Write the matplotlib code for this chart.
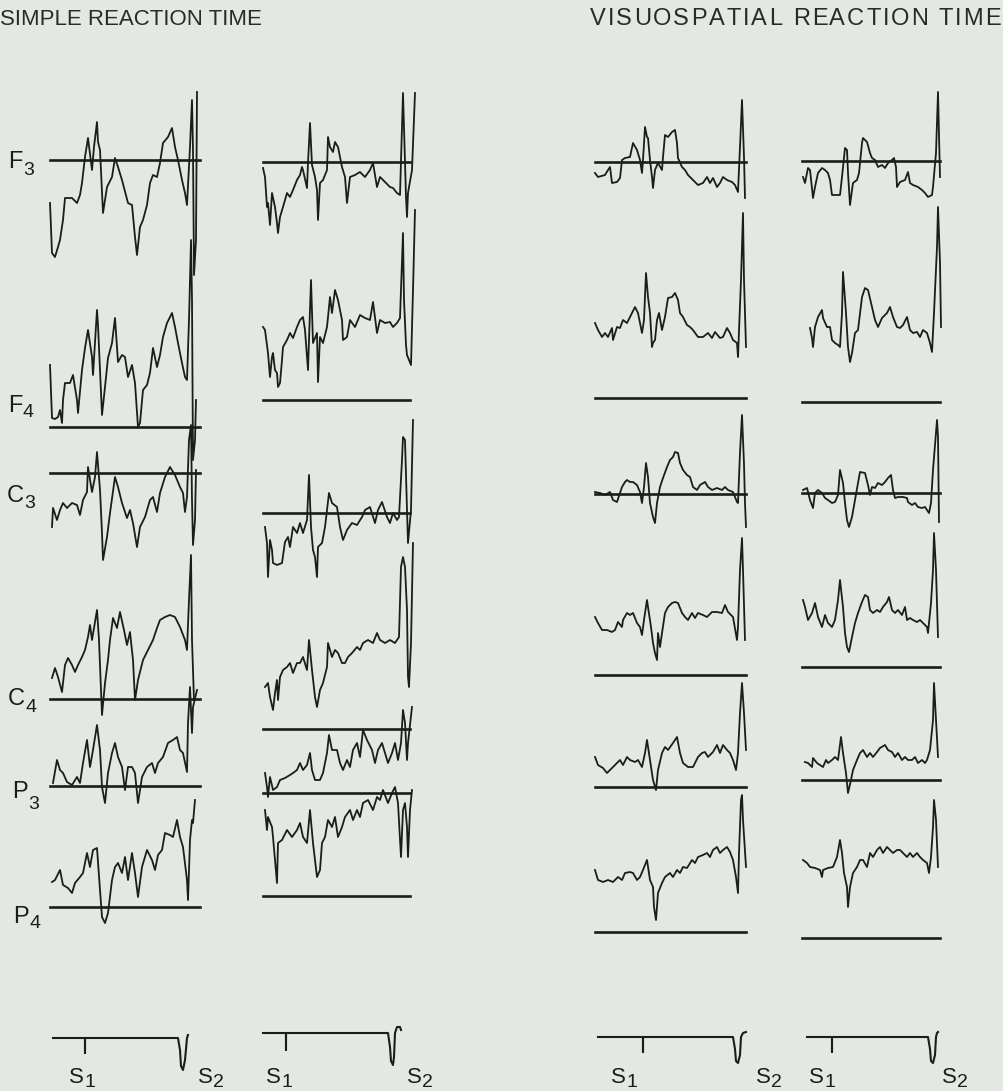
import matplotlib.pyplot as plt

# Averaged EEG traces for the two tasks, two subjects per task.
# Each trace is a list of (t, amplitude) points: t runs along the epoch,
# amplitude is measured upward from the trace's own reference line.

# ---- simple reaction time, first subject ----
srt_a_f3 = [(0, -43), (2, -93), (5, -97), (8, -87), (10, -80), (13, -60), (15, -38), (22, -38),
            (27, -43), (30, -35), (32, -23), (35, 3), (38, 22), (42, -10), (44, 13), (47, 38),
            (48, 18), (50, 10), (53, -53), (57, -27), (62, -17), (65, 2), (68, -7), (72, -20),
            (78, -43), (82, -45), (85, -77), (87, -95), (90, -67), (93, -60), (97, -45), (100, -23),
            (103, -15), (107, -17), (110, -3), (113, 17), (118, 23), (122, 32), (125, 13), (128, 0),
            (132, -20), (135, -33), (137, -45), (140, 13), (142, 60), (143, 10), (144, -115),
            (146, -80), (147, 68)]
srt_a_f4 = [(0, 62), (2, 9), (5, 8), (8, 10), (10, 17), (12, 4), (13, 27), (15, 44), (20, 44),
            (23, 52), (27, 27), (28, 14), (32, 57), (35, 79), (38, 97), (42, 70), (43, 52),
            (47, 117), (48, 102), (50, 57), (52, 12), (55, 40), (58, 69), (62, 84), (65, 109),
            (68, 65), (72, 72), (75, 70), (78, 50), (82, 62), (85, 44), (88, 0), (90, 4), (93, 37),
            (97, 42), (100, 54), (103, 79), (107, 60), (110, 72), (113, 90), (117, 104), (122, 114),
            (125, 100), (128, 84), (132, 64), (135, 50), (137, 47), (139, 107), (141, 187),
            (142, 127), (143, -33), (145, -13), (146, 27)]
srt_a_c3 = [(2, -54), (3, -35), (7, -47), (10, -37), (13, -30), (17, -35), (22, -30), (27, -32),
            (30, -42), (33, -27), (37, -19), (38, 6), (42, -19), (45, -4), (47, 21), (50, -17),
            (52, -60), (53, -87), (57, -64), (60, -40), (65, -4), (68, -14), (72, -30), (77, -45),
            (80, -37), (83, -50), (87, -74), (90, -54), (95, -44), (100, -27), (103, -24),
            (107, -39), (110, -20), (115, -4), (120, 6), (125, -2), (130, -14), (133, -20),
            (135, -39), (137, -24), (139, 33), (141, 48), (142, -27), (143, -72), (145, -47),
            (146, 3)]
srt_a_c4 = [(2, 21), (5, 31), (8, 22), (12, 7), (15, 34), (18, 41), (22, 34), (25, 27), (28, 34),
            (32, 42), (35, 49), (38, 62), (40, 74), (42, 59), (45, 77), (47, 89), (49, 59),
            (51, 9), (52, -16), (55, 16), (58, 39), (60, 59), (63, 81), (67, 71), (70, 87),
            (74, 69), (77, 54), (80, 67), (83, 39), (85, -1), (88, 19), (93, 39), (98, 49),
            (103, 59), (107, 71), (110, 79), (115, 82), (120, 84), (125, 82), (130, 72), (135, 59),
            (137, 49), (139, 99), (141, 144), (142, 59), (144, -1)]
srt_a_p3 = [(3, 3), (7, 26), (10, 16), (13, 13), (17, 4), (22, 1), (27, 9), (30, 3), (33, 23),
            (37, 46), (40, 19), (43, 36), (47, 61), (50, 36), (52, -1), (55, -17), (58, 13),
            (62, 33), (65, 43), (68, 29), (72, 19), (75, -4), (78, 19), (82, 19), (85, 13),
            (88, -17), (92, 9), (97, 19), (102, 23), (105, 13), (108, 23), (113, 29), (118, 43),
            (123, 46), (127, 49), (130, 36), (133, 33), (137, 14), (138, 63), (140, 99), (142, 53),
            (143, 79), (147, 96)]
srt_a_p4 = [(2, 25), (5, 27), (10, 37), (13, 22), (18, 19), (22, 14), (25, 24), (30, 30), (33, 34),
            (37, 54), (40, 40), (43, 57), (47, 59), (50, 17), (52, -10), (55, -16), (58, -6),
            (62, 27), (65, 40), (68, 44), (72, 34), (75, 50), (78, 27), (82, 54), (85, 34),
            (88, 10), (92, 40), (97, 57), (102, 47), (105, 37), (108, 52), (112, 57), (115, 74),
            (120, 72), (123, 70), (127, 87), (130, 70), (133, 60), (137, 27), (138, 7), (140, 67),
            (142, 87), (143, 84), (145, 107)]

# ---- simple reaction time, second subject ----
srt_b_f3 = [(0, -6), (2, -15), (4, -45), (5, -41), (7, -63), (9, -31), (12, -45), (14, -61),
            (15, -71), (17, -55), (20, -45), (24, -31), (27, -35), (30, -28), (34, -18), (37, -13),
            (39, -5), (40, -8), (44, -26), (45, -1), (47, 39), (49, -3), (52, -15), (54, -28),
            (55, -58), (57, -21), (60, -18), (64, -8), (65, 25), (67, 15), (70, 10), (72, 20),
            (75, 15), (79, -5), (82, -15), (84, -41), (87, -15), (92, -13), (97, -10), (102, -15),
            (107, -8), (110, -1), (114, -25), (117, -15), (122, -20), (127, -25), (130, -26),
            (134, -31), (137, -33), (140, 69), (143, -35), (144, -55), (145, -31), (149, -8),
            (152, 69)]
srt_b_f4 = [(0, 73), (2, 70), (5, 47), (7, 23), (9, 43), (10, 47), (12, 30), (14, 27), (15, 13),
            (17, 17), (19, 40), (20, 53), (24, 60), (27, 67), (30, 62), (34, 73), (37, 80),
            (40, 83), (42, 70), (45, 30), (48, 120), (50, 57), (54, 67), (55, 18), (57, 63),
            (60, 57), (64, 73), (67, 103), (69, 87), (72, 110), (75, 100), (79, 80), (80, 60),
            (84, 63), (87, 80), (92, 73), (97, 85), (102, 82), (107, 80), (110, 98), (114, 67),
            (117, 80), (122, 77), (127, 78), (130, 73), (134, 77), (137, 82), (140, 167),
            (141, 100), (143, 55), (144, 45), (148, 35), (150, 110), (152, 190)]
srt_b_c3 = [(2, -14), (4, -30), (5, -64), (7, -27), (9, -37), (10, -50), (14, -52), (19, -50),
            (22, -29), (25, -24), (27, -34), (30, -14), (34, -20), (37, -10), (40, -20), (44, -7),
            (46, 38), (48, -14), (50, -37), (52, -44), (54, -64), (55, -34), (59, -30), (62, -14),
            (64, 3), (66, 20), (69, 10), (74, 6), (77, -14), (80, -27), (84, -17), (89, -10),
            (94, -12), (99, -4), (102, 3), (107, 6), (112, -10), (115, 3), (119, 11), (124, -4),
            (127, -10), (130, 0), (134, -7), (136, -4), (139, 53), (140, 76), (142, 73), (144, 3),
            (145, -30), (148, 3), (150, 93)]
srt_b_c4 = [(2, 42), (5, 46), (7, 32), (10, 19), (12, 36), (14, 49), (15, 29), (17, 52), (20, 59),
            (24, 62), (27, 66), (30, 56), (34, 66), (37, 66), (40, 72), (44, 59), (46, 89),
            (49, 59), (52, 32), (54, 22), (57, 39), (60, 46), (64, 62), (65, 86), (69, 72),
            (72, 79), (75, 76), (79, 66), (82, 66), (85, 72), (89, 76), (94, 82), (97, 79),
            (100, 86), (105, 89), (110, 86), (114, 96), (117, 89), (122, 86), (127, 89), (132, 86),
            (136, 92), (138, 162), (140, 172), (142, 162), (144, 119), (145, 52), (146, 42),
            (148, 86), (150, 186)]
srt_b_p3 = [(2, 20), (4, 6), (5, -4), (7, 16), (10, 3), (14, 6), (17, 13), (22, 15), (27, 18),
            (30, 20), (34, 23), (37, 30), (40, 23), (44, 28), (47, 40), (49, 23), (52, 13),
            (57, 13), (60, 20), (64, 40), (66, 58), (69, 43), (74, 43), (77, 30), (80, 23),
            (84, 33), (87, 26), (90, 43), (94, 50), (97, 36), (100, 63), (104, 53), (109, 43),
            (112, 30), (115, 43), (119, 50), (122, 40), (125, 30), (129, 40), (132, 50), (135, 33),
            (138, 50), (140, 83), (142, 70), (144, 33), (145, 50), (149, 86)]
srt_b_p4 = [(2, 86), (4, 66), (5, 79), (9, 69), (10, 59), (14, 13), (15, 53), (19, 56), (24, 66),
            (29, 59), (34, 66), (37, 73), (40, 59), (44, 53), (47, 86), (50, 53), (54, 19),
            (57, 26), (59, 53), (62, 59), (65, 76), (69, 69), (72, 79), (75, 59), (79, 69),
            (82, 79), (87, 86), (90, 76), (94, 86), (97, 79), (100, 93), (105, 96), (110, 86),
            (114, 99), (117, 96), (120, 106), (125, 93), (129, 103), (132, 109), (135, 93),
            (138, 39), (140, 86), (142, 93), (144, 69), (145, 39), (147, 86), (149, 106)]

# ---- visuospatial reaction time, first subject ----
vrt_a_f3 = [(0, -11), (3, -15), (10, -13), (13, -8), (15, -5), (17, -21), (22, -20), (25, -16),
            (27, 2), (30, 4), (35, 5), (38, 19), (42, 12), (45, 2), (47, -11), (48, 2), (50, 35),
            (52, 25), (53, 24), (55, 2), (57, -15), (58, -26), (60, -8), (63, -1), (67, -8),
            (68, 5), (70, 27), (73, 25), (77, 30), (80, 32), (82, 19), (83, 4), (87, -5), (90, -8),
            (93, -13), (98, -18), (103, -23), (108, -21), (112, -15), (115, -21), (118, -16),
            (122, -25), (125, -21), (128, -15), (132, -18), (137, -20), (140, -23), (143, -30),
            (145, 15), (147, 62), (149, 5), (150, -36)]
vrt_a_f4 = [(0, 75), (3, 68), (7, 61), (10, 65), (13, 61), (17, 70), (18, 58), (22, 71), (25, 70),
            (28, 78), (32, 75), (35, 81), (40, 91), (43, 85), (47, 65), (49, 78), (51, 125),
            (53, 101), (55, 85), (57, 51), (58, 55), (60, 58), (62, 78), (64, 85), (67, 68),
            (70, 81), (73, 100), (77, 101), (80, 105), (83, 98), (85, 85), (88, 81), (92, 73),
            (95, 71), (98, 68), (103, 61), (108, 61), (113, 65), (117, 60), (120, 66), (125, 60),
            (128, 61), (132, 70), (135, 65), (138, 58), (142, 55), (143, 41), (146, 118),
            (148, 185), (149, 118), (151, 51)]
vrt_a_c3 = [(0, 2), (5, 1), (10, -1), (15, 2), (18, -6), (22, -8), (25, 1), (27, 7), (30, 12),
            (32, 14), (35, 12), (38, 12), (42, 9), (45, 2), (47, -9), (49, 7), (51, 31), (53, 17),
            (55, -9), (58, -23), (60, -29), (62, -9), (65, 7), (68, 16), (72, 27), (75, 34),
            (78, 37), (80, 42), (83, 41), (85, 31), (88, 24), (92, 19), (95, 17), (98, 7),
            (102, 4), (105, 9), (110, 12), (113, 7), (117, 4), (122, 6), (127, 4), (130, 7),
            (133, 4), (138, 2), (142, -8), (143, -9), (145, 41), (147, 79), (149, 30), (150, -9),
            (151, -33)]
vrt_a_c4 = [(0, 58), (3, 52), (7, 45), (12, 45), (17, 43), (20, 45), (23, 53), (27, 48), (28, 55),
            (32, 62), (35, 60), (38, 62), (42, 52), (45, 48), (47, 40), (49, 55), (52, 75),
            (53, 68), (56, 48), (58, 32), (60, 22), (62, 15), (63, 42), (65, 28), (67, 42),
            (70, 62), (73, 68), (77, 72), (80, 73), (83, 72), (87, 62), (90, 58), (93, 55),
            (97, 62), (100, 57), (103, 62), (108, 60), (112, 58), (117, 63), (122, 63), (127, 62),
            (130, 70), (133, 63), (138, 58), (142, 35), (143, 48), (145, 105), (147, 137),
            (148, 105), (150, 35)]
vrt_a_p3 = [(0, 30), (3, 22), (8, 19), (12, 14), (17, 19), (20, 22), (25, 27), (28, 22), (32, 30),
            (35, 27), (40, 25), (43, 27), (47, 20), (50, 34), (52, 47), (55, 27), (58, 7),
            (61, -3), (63, 17), (67, 34), (70, 40), (73, 37), (78, 44), (82, 50), (85, 34),
            (88, 24), (93, 20), (98, 20), (103, 30), (107, 34), (110, 35), (113, 30), (118, 35),
            (122, 42), (125, 34), (128, 42), (132, 37), (135, 34), (138, 27), (141, 17), (143, 34),
            (145, 74), (147, 104), (149, 74), (151, 37)]
vrt_a_p4 = [(0, 62), (3, 52), (8, 50), (13, 52), (18, 50), (23, 55), (27, 52), (30, 59), (35, 60),
            (38, 59), (42, 52), (45, 55), (48, 62), (52, 72), (55, 52), (58, 45), (59, 25),
            (61, 12), (63, 39), (67, 49), (70, 55), (75, 59), (78, 55), (82, 62), (85, 59),
            (88, 65), (92, 64), (97, 72), (100, 69), (103, 75), (108, 77), (112, 79), (115, 75),
            (118, 82), (122, 85), (125, 79), (128, 82), (132, 85), (135, 80), (138, 72), (141, 55),
            (143, 39), (144, 79), (146, 132), (147, 137), (148, 112), (151, 65)]

# ---- visuospatial reaction time, second subject ----
vrt_b_f3 = [(1, -16), (3, -22), (6, -7), (8, -9), (11, -37), (13, -26), (16, -12), (20, -7),
            (23, -9), (26, -12), (28, -19), (30, -34), (33, -34), (38, -34), (40, -16), (43, 13),
            (45, 11), (46, -12), (48, -44), (50, -29), (51, -22), (55, -19), (57, -12), (60, 18),
            (61, 23), (65, 19), (68, 8), (70, 3), (73, 1), (76, -6), (80, -4), (83, -7), (86, -2),
            (90, 1), (92, 3), (94, -6), (95, -26), (98, -21), (103, -19), (106, -11), (108, -22),
            (111, -24), (116, -26), (120, -29), (123, -32), (126, -36), (130, -34), (131, -26),
            (134, 8), (136, 69), (138, -16)]
vrt_b_f4 = [(8, 74), (10, 64), (11, 55), (13, 75), (16, 85), (20, 92), (21, 84), (25, 75),
            (28, 75), (30, 62), (33, 59), (36, 57), (38, 55), (40, 89), (41, 130), (44, 89),
            (46, 55), (48, 40), (50, 49), (53, 69), (56, 72), (60, 105), (63, 114), (66, 112),
            (70, 95), (73, 82), (76, 75), (80, 84), (85, 89), (88, 95), (91, 85), (95, 75),
            (98, 74), (101, 77), (105, 85), (108, 72), (111, 69), (115, 70), (118, 65), (121, 72),
            (125, 69), (128, 59), (130, 50), (132, 89), (135, 155), (136, 195), (138, 139),
            (139, 75)]
vrt_b_c3 = [(1, 3), (5, 5), (8, -7), (11, -15), (13, 0), (16, 3), (20, 0), (23, -5), (26, -7),
            (30, -10), (33, -9), (36, -2), (38, 23), (41, 10), (43, -10), (45, -27), (47, -34),
            (50, -24), (53, -7), (56, 10), (58, 21), (63, 20), (66, 8), (68, -2), (70, 6), (73, 5),
            (76, 10), (80, 8), (83, 11), (86, 15), (89, 18), (91, 3), (93, -5), (96, -4),
            (101, -4), (105, -5), (106, -9), (110, -12), (113, -10), (116, -14), (120, -15),
            (123, -14), (125, -17), (127, -20), (129, -10), (131, 23), (135, 73), (136, 56),
            (137, -29)]
vrt_b_c4 = [(1, 67), (3, 60), (6, 47), (10, 54), (13, 64), (16, 50), (20, 40), (23, 52), (26, 44),
            (30, 40), (33, 47), (36, 67), (38, 87), (41, 60), (43, 34), (45, 20), (47, 15),
            (50, 30), (53, 44), (56, 54), (60, 65), (63, 72), (66, 70), (68, 57), (71, 54),
            (75, 57), (78, 55), (81, 60), (85, 65), (87, 70), (90, 57), (93, 54), (96, 57),
            (100, 52), (103, 60), (105, 47), (108, 49), (111, 47), (115, 45), (118, 47),
            (121, 44), (125, 40), (126, 34), (129, 64), (131, 97), (132, 134), (134, 97),
            (136, 30)]
vrt_b_p3 = [(3, 18), (6, 17), (10, 13), (11, 22), (15, 17), (18, 15), (21, 13), (24, 20),
            (26, 17), (30, 20), (33, 23), (36, 20), (39, 43), (41, 27), (44, 7), (46, -13),
            (49, 0), (51, 10), (55, 20), (58, 27), (61, 30), (65, 23), (68, 27), (71, 23),
            (75, 28), (78, 32), (83, 35), (86, 30), (90, 28), (93, 23), (96, 27), (100, 20),
            (103, 23), (106, 20), (110, 20), (113, 23), (116, 17), (120, 20), (123, 17), (125, 20),
            (128, 30), (131, 60), (132, 97), (134, 60), (136, 23)]
vrt_b_p4 = [(1, 78), (5, 75), (8, 71), (13, 70), (18, 68), (20, 61), (21, 68), (26, 70), (31, 71),
            (35, 81), (38, 98), (40, 85), (42, 65), (45, 51), (46, 31), (48, 51), (51, 65),
            (55, 71), (58, 78), (61, 78), (65, 71), (68, 85), (71, 81), (75, 88), (78, 91),
            (81, 85), (85, 91), (88, 88), (91, 85), (95, 88), (98, 88), (101, 85), (105, 81),
            (108, 85), (111, 81), (115, 85), (118, 81), (121, 78), (125, 75), (127, 65), (129, 81),
            (131, 111), (132, 138), (134, 118), (136, 71)]

# stimulus channel (S1 warning tick, S2 imperative dip)
stim_srt_a = [(3, 0), (35, 0), (35, -15), (35, 0), (128, 0), (130, -12), (131, -28), (133, -32),
              (135, -22), (137, 0), (138, 3)]
stim_srt_b = [(0, 0), (23, 0), (23, -17), (23, 0), (125, 0), (127, -14), (128, -28), (130, -32),
              (131, -24), (132, 0), (134, 6), (137, 6), (138, 3)]
stim_vrt_a = [(3, 0), (48, 0), (48, -15), (48, 0), (138, 0), (140, -12), (141, -24), (143, -26),
              (145, -18), (146, 0), (148, 4), (151, 5)]
stim_vrt_b = [(5, 0), (30, 0), (30, -15), (30, 0), (126, 0), (128, -12), (129, -24), (131, -26),
              (133, -18), (134, 0), (135, 4), (136, 5)]

electrodes = [("F", "3"), ("F", "4"), ("C", "3"), ("C", "4"), ("P", "3"), ("P", "4")]
columns = [
    [srt_a_f3, srt_a_f4, srt_a_c3, srt_a_c4, srt_a_p3, srt_a_p4],
    [srt_b_f3, srt_b_f4, srt_b_c3, srt_b_c4, srt_b_p3, srt_b_p4],
    [vrt_a_f3, vrt_a_f4, vrt_a_c3, vrt_a_c4, vrt_a_p3, vrt_a_p4],
    [vrt_b_f3, vrt_b_f4, vrt_b_c3, vrt_b_c4, vrt_b_p3, vrt_b_p4],
]
stims = [stim_srt_a, stim_srt_b, stim_vrt_a, stim_vrt_b]

# page layout (pixels)
col_x = [50, 263, 595, 802]
col_w = [150, 147, 151, 138]
ref_y = [[160, 427, 473, 699, 786, 907],
         [162, 400, 513, 729, 793, 896],
         [162, 398, 494, 675, 787, 932],
         [161, 402, 493, 667, 780, 938]]
stim_y = [1038, 1033, 1037, 1037]
label_pos = [(8, 168, 7), (8, 412, 5), (7, 502, 6), (8, 705, 7), (12, 798, 11), (13, 923, 5)]
s_labels = [(69, 198), (266, 407), (611, 756), (809, 942)]

INK = "#1c1c1c"
PAPER = "#e3e8e2"
FONT = "Liberation Sans"

fig = plt.figure(figsize=(10.04, 10.91), dpi=100, facecolor=PAPER)
ax = fig.add_axes([0, 0, 1, 1])
ax.set_facecolor(PAPER)
ax.set_xlim(0, 1004)
ax.set_ylim(1091, 0)
ax.axis("off")
renderer = fig.canvas.get_renderer()


def plot_trace(x0, y0, pts, lw=1.3):
    ax.plot([x0 + t for t, v in pts], [y0 - v for t, v in pts],
            color=INK, lw=lw, solid_joinstyle="round")


def sub_text(x, y, main, sub, size, sub_size, dy):
    # letter, then its index set just past the letter's right edge and lowered
    t = ax.text(x, y, main, fontsize=size, family=FONT, color=INK, va="baseline", ha="left")
    right = t.get_window_extent(renderer).x1
    ax.text(right + 0.5, y + dy, sub, fontsize=sub_size, family=FONT, color=INK,
            va="baseline", ha="left")


def spaced_text(x_left, x_right, y, s, size):
    # draw a title letter by letter, spread evenly between two x positions
    widths = []
    for ch in s:
        t = ax.text(0, 0, ch, fontsize=size, family=FONT)
        w, _, _ = renderer.get_text_width_height_descent(ch, t.get_fontproperties(), ismath=False)
        widths.append(w)
        t.remove()
    gap = (x_right - x_left - sum(widths)) / (len(s) - 1)
    x = x_left
    for ch, w in zip(s, widths):
        ax.text(x, y, ch, fontsize=size, family=FONT, color="#2a2a2a", va="baseline", ha="left")
        x += w + gap


for c, traces in enumerate(columns):
    x0 = col_x[c]
    for r, pts in enumerate(traces):
        y0 = ref_y[c][r]
        ax.plot([x0, x0 + col_w[c]], [y0, y0], color=INK, lw=1.9)
        plot_trace(x0, y0, pts)
    plot_trace(x0, stim_y[c], stims[c], lw=1.5)
    s1x, s2x = s_labels[c]
    sub_text(s1x, 1083, "S", "1", 16, 14, 4)
    sub_text(s2x, 1083, "S", "2", 16, 14, 4)

for (main, sub), (mx, my, dy) in zip(electrodes, label_pos):
    sub_text(mx, my, main, sub, 17, 14, dy)

ax.text(0, 25, "SIMPLE REACTION TIME", fontsize=16, family=FONT, color="#2a2a2a",
        va="baseline", ha="left")
spaced_text(590, 1001, 25, "VISUOSPATIAL REACTION TIME", 17)

fig.savefig("out.png", dpi=100, facecolor=PAPER)
